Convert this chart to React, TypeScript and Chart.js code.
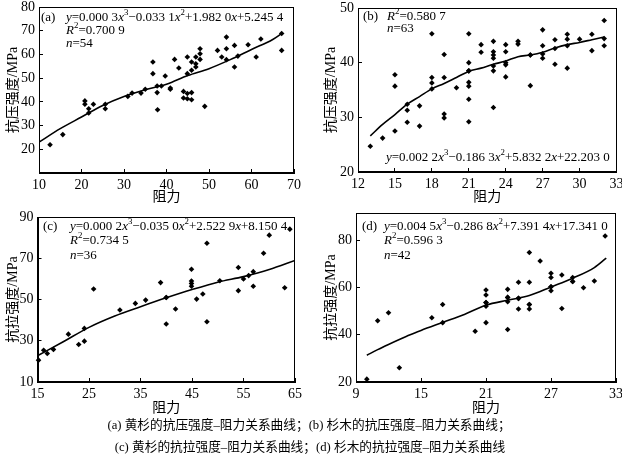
import React, { useEffect, useRef } from "react";
import { Chart, registerables } from "chart.js";

Chart.register(...registerables);

const FONT = '"Liberation Serif", "Noto Sans CJK SC", serif';

// ---------- Panel (a) 黄杉 抗压强度 ----------
const aX = [12.6, 15.6, 20.8, 20.8, 21.7, 21.7, 22.8, 25.6, 25.6, 30.9, 31.9, 34, 36.8, 36.8, 37.8, 37.8, 37.9, 38.8, 39.7, 40.9, 41.9, 42.9, 44, 44, 44.9, 44.9, 44.9, 44.9, 45.9, 45.9, 45.9, 45.9, 46.9, 46.9, 46.9, 47.9, 47.9, 47.9, 49, 52, 53, 54.1, 54.1, 54.1, 56, 56, 56.8, 59.2, 61.1, 62.2, 67.1, 67.1, 35, 40.9];
const aY = [21.9, 26.2, 40.4, 39, 37.1, 35.3, 39, 39, 37.1, 42.3, 43.7, 43.7, 56.8, 51.9, 46.7, 43.9, 36.7, 46.7, 50.9, 45.3, 57.9, 54.3, 44.4, 41.6, 58.9, 51.9, 43.5, 41.3, 56.8, 53.3, 43.9, 40.9, 58.9, 56.1, 54.7, 62.4, 60.3, 57.9, 38.1, 61.7, 58.9, 67.3, 62.4, 57.8, 63.8, 54.7, 59.3, 64.1, 58.9, 66.5, 68.8, 61.7, 45.3, 45.8];
const aCurveX = [10, 15, 20, 25, 30, 35, 40, 45, 50, 55, 60, 65, 67.1];
const aCurveY = [23, 28.7, 33.6, 38.5, 42.3, 45.1, 47.4, 51.1, 54, 57.8, 62.1, 66.3, 68.8];
const aXTicks = [10, 20, 30, 40, 50, 60, 70];
const aYTicks = [20, 30, 40, 50, 60, 70, 80];

// ---------- Panel (b) 杉木 抗压强度 ----------
const bX = [13, 14, 15, 15, 15, 16, 16, 17, 17, 18, 18, 18, 18, 19, 19, 19, 19, 20, 21, 21, 21, 21, 21, 21, 21, 22, 22, 23, 23, 23, 23, 23, 23, 23, 24, 24, 24, 24, 24, 25, 25, 26, 26, 27, 27, 27, 27, 28, 28, 29, 29, 29, 29, 30, 31, 31, 32, 32, 32, 16, 28, 26, 21];
const bY = [24.7, 26.2, 37.8, 35.7, 27.5, 31.3, 29.1, 32.1, 28.4, 45.3, 37.3, 36.3, 35.2, 41.5, 37.3, 30.6, 29.9, 35.4, 45.3, 40, 38.5, 36.4, 35.7, 33.3, 29.2, 43.3, 41.9, 43.9, 42, 41.4, 40.8, 39.4, 38.5, 31.8, 43.3, 42, 40, 39.6, 37.4, 43.9, 43.4, 41.4, 35.8, 46, 43.1, 41.6, 40.8, 44.2, 39.7, 45.2, 44.3, 43.1, 39, 44.3, 45.2, 42.2, 47.7, 44.4, 43.1, 32.4, 42.6, 41.4, 38.5];
const bCurveX = [13, 14, 15, 16, 17, 18, 19, 20, 21, 22, 23, 24, 25, 26, 27, 28, 29, 30, 31, 32];
const bCurveY = [26.6, 28.7, 30.5, 32.4, 33.8, 35.2, 36.2, 37.3, 38.4, 39, 39.7, 40.3, 41.1, 41.4, 41.9, 42.7, 43.3, 43.7, 44.2, 44.7];
const bXTicks = [12, 15, 18, 21, 24, 27, 30, 33];
const bYTicks = [20, 30, 40, 50];

// ---------- Panel (c) 黄杉 抗拉强度 ----------
const cX = [15.2, 16.2, 16.9, 18.1, 21, 23, 24.1, 25.9, 31, 34, 36, 38.9, 40, 40, 41.8, 44.9, 44.9, 44.9, 45.9, 47.1, 47.9, 47.9, 50.4, 54, 54, 55, 56, 56.9, 56.9, 58.9, 60, 63, 64, 24.1, 44.9, 40];
const cY = [20.6, 25.4, 23.8, 25.8, 33.2, 28.2, 29.8, 55.1, 44.9, 48.1, 49.7, 58.2, 51, 38.1, 45.4, 64.7, 59, 56.4, 50.2, 52.7, 77.3, 39.2, 59.1, 65.5, 54.3, 60, 61.6, 63.5, 56.4, 72.4, 81.2, 55.7, 84.1, 36, 57.8, 51];
const cCurveX = [15, 20, 25, 30, 35, 40, 45, 50, 55, 60, 65];
const cCurveY = [22.7, 29.5, 36.5, 42, 46.5, 50.8, 54.8, 58.4, 61.1, 64.5, 68.9];
const cXTicks = [15, 25, 35, 45, 55, 65];
const cYTicks = [10, 30, 50, 70, 90];

// ---------- Panel (d) 杉木 抗拉强度 ----------
const dX = [10, 11, 12, 13, 16, 17, 17, 20, 21, 21, 21, 21, 21, 23, 23, 23, 23, 24, 24, 24, 25, 25, 25, 25, 26, 27, 27, 27, 27, 28, 28, 29, 29, 30, 31, 32, 21, 23, 24, 27, 29, 25];
const dY = [21.2, 45.9, 49.3, 26, 47.2, 52.8, 45.1, 41.5, 58.9, 56.8, 53.6, 52.1, 45.1, 59.2, 55.8, 54, 42.2, 62.2, 55.4, 50.9, 74.8, 62.2, 52.8, 50.9, 71.2, 66, 64.2, 60.3, 58.6, 65.3, 51.1, 64.2, 62.5, 59.9, 62.7, 81.8, 53.6, 55.8, 55.4, 60.3, 62.5, 52.8];
const dCurveX = [10, 11, 12, 13, 14, 15, 17, 19, 21, 23, 25, 27, 29, 31, 32.1];
const dCurveY = [31.3, 33.7, 35.9, 38, 40, 41.8, 45.2, 48.6, 52.5, 54.6, 56.6, 60.2, 63.9, 68.4, 72.4];
const dXTicks = [9, 15, 21, 27, 33];
const dYTicks = [20, 40, 60, 80];

type PanelCfg = {
  left: number;
  top: number;
  w: number;
  h: number;
  areaL: number;
  areaT: number;
  areaR: number;
  areaB: number;
  xMin: number;
  xMax: number;
  yMin: number;
  yMax: number;
  xTicks: number[];
  yTicks: number[];
  px: number[];
  py: number[];
  cx: number[];
  cy: number[];
  yTitle: string;
  yTitlePad: number;
  xTitlePad: number;
};

const panels: PanelCfg[] = [
  {
    left: 0, top: 0, w: 311, h: 208, areaL: 39, areaT: 7, areaR: 294, areaB: 173,
    xMin: 10, xMax: 70, yMin: 10, yMax: 80, xTicks: aXTicks, yTicks: aYTicks,
    px: aX, py: aY, cx: aCurveX, cy: aCurveY, yTitle: "抗压强度/MPa", yTitlePad: 5, xTitlePad: 2.5,
  },
  {
    left: 311, top: 0, w: 311, h: 208, areaL: 47, areaT: 8, areaR: 305.5, areaB: 172,
    xMin: 12, xMax: 33, yMin: 20, yMax: 50, xTicks: bXTicks, yTicks: bYTicks,
    px: bX, py: bY, cx: bCurveX, cy: bCurveY, yTitle: "抗压强度/MPa", yTitlePad: 11.6, xTitlePad: 2.5,
  },
  {
    left: 0, top: 210, w: 311, h: 208, areaL: 37.5, areaT: 7, areaR: 295, areaB: 172,
    xMin: 15, xMax: 65, yMin: 10, yMax: 90, xTicks: cXTicks, yTicks: cYTicks,
    px: cX, py: cY, cx: cCurveX, cy: cCurveY, yTitle: "抗拉强度/MPa", yTitlePad: 5, xTitlePad: 1.6,
  },
  {
    left: 311, top: 210, w: 311, h: 208, areaL: 45, areaT: 3, areaR: 305, areaB: 172,
    xMin: 9, xMax: 33, yMin: 20, yMax: 91.5, xTicks: dXTicks, yTicks: dYTicks,
    px: dX, py: dY, cx: dCurveX, cy: dCurveY, yTitle: "抗拉强度/MPa", yTitlePad: 11.6, xTitlePad: 1.6,
  },
];

const framePlugin = {
  id: "frame",
  afterDraw(chart: any) {
    const { ctx, chartArea } = chart;
    const l = Math.round(chartArea.left) + 0.5;
    const t = Math.round(chartArea.top) + 0.5;
    const r = Math.round(chartArea.right) - 0.5;
    const b = Math.round(chartArea.bottom) - 0.5;
    ctx.save();
    ctx.strokeStyle = "#000";
    ctx.lineWidth = 1;
    ctx.strokeRect(l, t, r - l, b - t);
    ctx.restore();
  },
};

function Panel({ cfg }: { cfg: PanelCfg }) {
  const ref = useRef<HTMLCanvasElement | null>(null);
  useEffect(() => {
    if (!ref.current) return;
    const tickFont = { family: FONT, size: 14 };
    const titleFont = { family: FONT, size: 14 };
    const pts = cfg.px.map((x, i) => ({ x, y: cfg.py[i] }));
    const curve = cfg.cx.map((x, i) => ({ x, y: cfg.cy[i] }));
    const chart = new Chart(ref.current, {
      type: "scatter",
      data: {
        datasets: [
          {
            data: pts,
            pointStyle: "rectRot",
            pointRadius: 2.8,
            pointHoverRadius: 2.8,
            backgroundColor: "#000",
            borderColor: "#000",
            borderWidth: 0,
            clip: 5,
          } as any,
          {
            data: curve,
            showLine: true,
            pointRadius: 0,
            borderColor: "#000",
            borderWidth: 1.6,
            cubicInterpolationMode: "monotone",
            fill: false,
          } as any,
        ],
      },
      options: {
        responsive: false,
        animation: false,
        events: [],
        layout: {
          padding: { left: 0, top: cfg.areaT, right: cfg.w - cfg.areaR, bottom: 0 },
        },
        plugins: { legend: { display: false }, tooltip: { enabled: false } },
        scales: {
          x: {
            type: "linear",
            position: "bottom",
            min: cfg.xMin,
            max: cfg.xMax,
            afterBuildTicks: (s: any) => {
              s.ticks = cfg.xTicks.map((v) => ({ value: v }));
            },
            afterFit: (s: any) => {
              s.height = cfg.h - cfg.areaB;
              s.paddingLeft = 0;
              s.paddingRight = 0;
            },
            grid: { drawOnChartArea: false, tickLength: -4, color: "#000", lineWidth: 1 },
            border: { color: "#000", width: 1 },
            ticks: {
              font: tickFont,
              color: "#000",
              padding: 8,
              maxRotation: 0,
              autoSkip: false,
              callback: (v: any) => String(v),
            },
            title: {
              display: true,
              text: "阻力",
              font: titleFont,
              color: "#000",
              padding: { top: 0, bottom: cfg.xTitlePad },
            },
          },
          y: {
            type: "linear",
            position: "left",
            min: cfg.yMin,
            max: cfg.yMax,
            afterBuildTicks: (s: any) => {
              s.ticks = cfg.yTicks.map((v) => ({ value: v }));
            },
            afterFit: (s: any) => {
              s.width = cfg.areaL;
              s.paddingTop = 0;
              s.paddingBottom = 0;
            },
            grid: { drawOnChartArea: false, tickLength: -4, color: "#000", lineWidth: 1 },
            border: { color: "#000", width: 1 },
            ticks: {
              font: tickFont,
              color: "#000",
              padding: 8,
              autoSkip: false,
              callback: (v: any) => String(v),
            },
            title: {
              display: true,
              text: cfg.yTitle,
              font: titleFont,
              color: "#000",
              padding: { top: cfg.yTitlePad, bottom: 0 },
            },
          },
        },
      } as any,
      plugins: [framePlugin],
    });
    return () => chart.destroy();
  }, [cfg]);
  return (
    <canvas
      ref={ref}
      width={cfg.w}
      height={cfg.h}
      style={{ position: "absolute", left: cfg.left, top: cfg.top, width: cfg.w, height: cfg.h }}
    />
  );
}

const supStyle: React.CSSProperties = { fontSize: "0.68em", verticalAlign: "0.65em", lineHeight: 0 };

function Line({ x, cy, children }: { x: number; cy: number; children: React.ReactNode }) {
  return (
    <div
      style={{
        position: "absolute",
        left: x,
        top: cy - 8,
        height: 16,
        lineHeight: "16px",
        fontSize: 13,
        fontFamily: FONT,
        whiteSpace: "nowrap",
        color: "#000",
      }}
    >
      {children}
    </div>
  );
}

const X = () => <i>x</i>;
const S = ({ n }: { n: string }) => <sup style={supStyle}>{n}</sup>;

export default function App() {
  return (
    <div
      style={{
        position: "absolute",
        left: 0,
        top: 0,
        width: 622,
        height: 458,
        background: "#fff",
        overflow: "hidden",
      }}
    >
      {panels.map((p, i) => (
        <Panel key={i} cfg={p} />
      ))}

      {/* (a) */}
      <Line x={41} cy={17}>(a)</Line>
      <Line x={66} cy={17}>
        <i>y</i>=0.000 3<X /><S n="3" />−0.033 1<X /><S n="2" />+1.982 0<X />+5.245 4
      </Line>
      <Line x={66} cy={30}>
        <i>R</i><S n="2" />=0.700 9
      </Line>
      <Line x={66} cy={43}>
        <i>n</i>=54
      </Line>

      {/* (b) */}
      <Line x={363} cy={16}>(b)</Line>
      <Line x={387} cy={16}>
        <i>R</i><S n="2" />=0.580 7
      </Line>
      <Line x={387} cy={28}>
        <i>n</i>=63
      </Line>
      <Line x={386} cy={157}>
        <i>y</i>=0.002 2<X /><S n="3" />−0.186 3<X /><S n="2" />+5.832 2<X />+22.203 0
      </Line>

      {/* (c) */}
      <Line x={43} cy={226}>(c)</Line>
      <Line x={70} cy={226}>
        <i>y</i>=0.000 2<X /><S n="3" />−0.035 0<X /><S n="2" />+2.522 9<X />+8.150 4
      </Line>
      <Line x={70} cy={240}>
        <i>R</i><S n="2" />=0.734 5
      </Line>
      <Line x={70} cy={255}>
        <i>n</i>=36
      </Line>

      {/* (d) */}
      <Line x={362} cy={226}>(d)</Line>
      <Line x={384} cy={226}>
        <i>y</i>=0.004 5<X /><S n="3" />−0.286 8<X /><S n="2" />+7.391 4<X />+17.341 0
      </Line>
      <Line x={384} cy={240}>
        <i>R</i><S n="2" />=0.596 3
      </Line>
      <Line x={384} cy={255}>
        <i>n</i>=42
      </Line>

      {/* captions */}
      <div
        style={{
          position: "absolute",
          left: 0,
          width: 618,
          top: 417,
          textAlign: "center",
          fontFamily: FONT,
          fontSize: 12.7,
          lineHeight: "16px",
          whiteSpace: "nowrap",
          color: "#000",
        }}
      >
        (a) 黄杉的抗压强度–阻力关系曲线；(b) 杉木的抗压强度–阻力关系曲线；
      </div>
      <div
        style={{
          position: "absolute",
          left: 0,
          width: 620,
          top: 439,
          textAlign: "center",
          fontFamily: FONT,
          fontSize: 12.7,
          lineHeight: "16px",
          whiteSpace: "nowrap",
          color: "#000",
        }}
      >
        (c) 黄杉的抗拉强度–阻力关系曲线；(d) 杉木的抗拉强度–阻力关系曲线
      </div>
    </div>
  );
}
